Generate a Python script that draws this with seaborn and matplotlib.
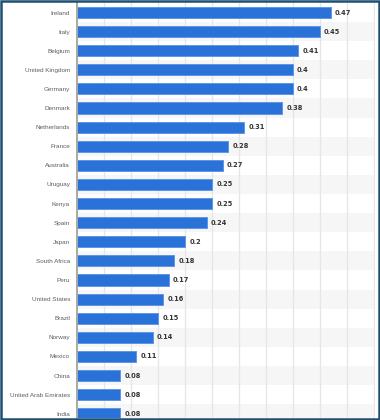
import matplotlib
matplotlib.use("Agg")
import matplotlib.pyplot as plt
import seaborn as sns
import pandas as pd
from matplotlib.patches import Rectangle

countries = ["Ireland", "Italy", "Belgium", "United Kingdom", "Germany", "Denmark",
             "Netherlands", "France", "Australia", "Uruguay", "Kenya", "Spain",
             "Japan", "South Africa", "Peru", "United States", "Brazil", "Norway",
             "Mexico", "China", "United Arab Emirates", "India"]
values = [0.47, 0.45, 0.41, 0.4, 0.4, 0.38, 0.31, 0.28, 0.27, 0.25, 0.25, 0.24,
          0.2, 0.18, 0.17, 0.16, 0.15, 0.14, 0.11, 0.08, 0.08, 0.08]
value_labels = ["0.47", "0.45", "0.41", "0.4", "0.4", "0.38", "0.31", "0.28", "0.27",
                "0.25", "0.25", "0.24", "0.2", "0.18", "0.17", "0.16", "0.15", "0.14",
                "0.11", "0.08", "0.08", "0.08"]

df = pd.DataFrame({"country": countries, "value": values})

sns.set_theme(style="white")
plt.rcParams['font.family'] = ['Liberation Sans', 'DejaVu Sans']

W, H = 380, 420
fig = plt.figure(figsize=(W / 100, H / 100), dpi=100)
ax = fig.add_axes([77 / W, 2 / H, (375 - 77) / W, (418 - 2) / H])

n = len(countries)
# alternating row bands
for i in range(n):
    if i % 2 == 1:
        ax.axhspan(i - 0.5, i + 0.5, color="#f6f6f6", zorder=0, lw=0)

sns.barplot(data=df, x="value", y="country", orient="h", color="#2a72d8",
            saturation=1, width=0.58, edgecolor="#5d97e6", linewidth=0.7,
            ax=ax, zorder=3)

ax.set_xlim(0, 0.552)
ax.set_ylim(21 + 4.3 / 19.2, -0.55)
ax.set_xticks([0.05 * k for k in range(1, 12)])
ax.xaxis.grid(True, color="#e6e6e6", linewidth=0.9, zorder=1)
ax.set_axisbelow(True)
ax.set_xticklabels([])
ax.tick_params(axis="x", length=0)
ax.tick_params(axis="y", length=0, pad=5, labelsize=4.6, labelcolor="#5f5f5f")
ax.set_xlabel("")
ax.set_ylabel("")

for s in ["top", "right", "bottom"]:
    ax.spines[s].set_visible(False)
ax.spines["left"].set_color("#a8a8a8")
ax.spines["left"].set_linewidth(1.4)
ax.spines["left"].set_zorder(5)

for i, (v, lab) in enumerate(zip(values, value_labels)):
    ax.annotate(lab, (v, i), xytext=(3, 0), textcoords="offset points",
                va="center", ha="left", fontsize=4.8, fontweight="bold",
                family="DejaVu Sans", color="#333333", zorder=6)

fig.patches.append(Rectangle((0.8 / W, 0.8 / H), 1 - 2.2 / W, 1 - 2.2 / H,
                             transform=fig.transFigure, fill=False,
                             edgecolor="#1d4f72", linewidth=1.8, zorder=10))

fig.savefig("out.png", dpi=100)
